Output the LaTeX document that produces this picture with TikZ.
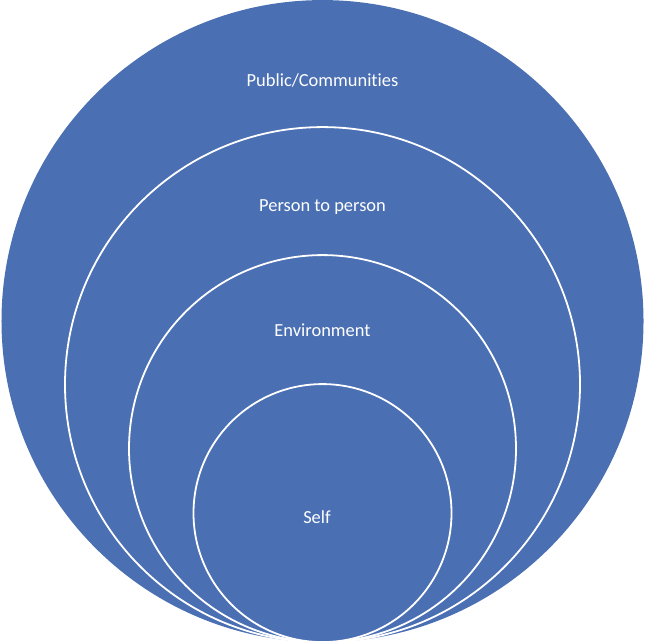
\documentclass[tikz,border=0pt]{standalone}
\usepackage{fontspec}
\setmainfont{Carlito}[Ligatures=NoCommon]
\usetikzlibrary{positioning}
\definecolor{ringblue}{HTML}{4A6FB3}

\begin{document}
\begin{tikzpicture}[x=1bp,y=1bp,
	ring/.style={circle,draw=white,line width=1.8bp,fill=ringblue,inner sep=0pt,anchor=south},
	lbl/.style={text=white,font=\fontsize{18.5}{22}\selectfont}
	]
	\useasboundingbox (0,0) rectangle (645,644);
	\coordinate (base) at (322.5,1);
	% rings, largest first
	\node[ring,draw=none,minimum size=642bp] (pub) at (base) {};
	\node[ring,minimum size=515bp] (per) at (base) {};
	\node[ring,minimum size=387bp] (env) at (base) {};
	\node[ring,minimum size=258bp] (self) at (base) {};
	% labels
	\node[lbl] (publbl) at (322.5,563) {Public/Communities};
	\node[lbl] (perlbl) at (322.5,437) {Person to person};
	\node[lbl] (envlbl) at (322.5,314) {Environment};
	\node[lbl] (selflbl) at (317,127) {Self};
\end{tikzpicture}
\end{document}
